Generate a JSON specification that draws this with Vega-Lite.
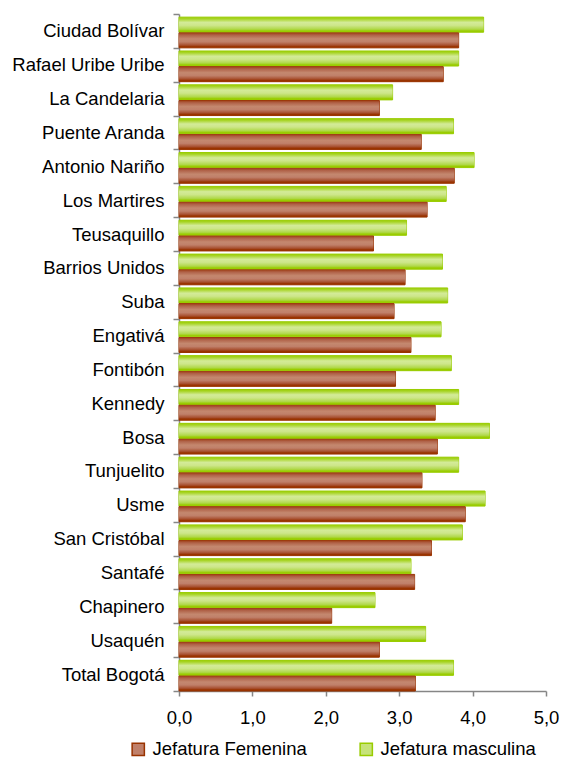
{
  "$schema": "https://vega.github.io/schema/vega-lite/v6.json",
  "width": 367,
  "height": 677,
  "autosize": {"type": "none"},
  "padding": {"left": 179, "top": 14, "right": 18, "bottom": 73},
  "background": "white",
  "config": {
    "view": {"stroke": null},
    "font": "Liberation Sans",
    "legend": {
      "orient": "none",
      "legendX": -50,
      "legendY": 726,
      "direction": "horizontal",
      "title": null,
      "symbolType": "square",
      "symbolSize": 150,
      "symbolStrokeWidth": 1.5,
      "labelFontSize": 18.5,
      "labelColor": "#000000",
      "labelFont": "Liberation Sans",
      "columnPadding": 50,
      "labelOffset": 5,
      "labelLimit": 300
    }
  },
  "data": {
    "values": [
      {"localidad": "Ciudad Bolívar", "jefatura": "Jefatura masculina", "valor": 4.15},
      {"localidad": "Ciudad Bolívar", "jefatura": "Jefatura Femenina", "valor": 3.81},
      {"localidad": "Rafael Uribe Uribe", "jefatura": "Jefatura masculina", "valor": 3.81},
      {"localidad": "Rafael Uribe Uribe", "jefatura": "Jefatura Femenina", "valor": 3.60},
      {"localidad": "La Candelaria", "jefatura": "Jefatura masculina", "valor": 2.91},
      {"localidad": "La Candelaria", "jefatura": "Jefatura Femenina", "valor": 2.73},
      {"localidad": "Puente Aranda", "jefatura": "Jefatura masculina", "valor": 3.74},
      {"localidad": "Puente Aranda", "jefatura": "Jefatura Femenina", "valor": 3.30},
      {"localidad": "Antonio Nariño", "jefatura": "Jefatura masculina", "valor": 4.02},
      {"localidad": "Antonio Nariño", "jefatura": "Jefatura Femenina", "valor": 3.75},
      {"localidad": "Los Martires", "jefatura": "Jefatura masculina", "valor": 3.64},
      {"localidad": "Los Martires", "jefatura": "Jefatura Femenina", "valor": 3.38},
      {"localidad": "Teusaquillo", "jefatura": "Jefatura masculina", "valor": 3.10},
      {"localidad": "Teusaquillo", "jefatura": "Jefatura Femenina", "valor": 2.65},
      {"localidad": "Barrios Unidos", "jefatura": "Jefatura masculina", "valor": 3.59},
      {"localidad": "Barrios Unidos", "jefatura": "Jefatura Femenina", "valor": 3.08},
      {"localidad": "Suba", "jefatura": "Jefatura masculina", "valor": 3.66},
      {"localidad": "Suba", "jefatura": "Jefatura Femenina", "valor": 2.93},
      {"localidad": "Engativá", "jefatura": "Jefatura masculina", "valor": 3.57},
      {"localidad": "Engativá", "jefatura": "Jefatura Femenina", "valor": 3.16},
      {"localidad": "Fontibón", "jefatura": "Jefatura masculina", "valor": 3.71},
      {"localidad": "Fontibón", "jefatura": "Jefatura Femenina", "valor": 2.95},
      {"localidad": "Kennedy", "jefatura": "Jefatura masculina", "valor": 3.81},
      {"localidad": "Kennedy", "jefatura": "Jefatura Femenina", "valor": 3.49},
      {"localidad": "Bosa", "jefatura": "Jefatura masculina", "valor": 4.23},
      {"localidad": "Bosa", "jefatura": "Jefatura Femenina", "valor": 3.52},
      {"localidad": "Tunjuelito", "jefatura": "Jefatura masculina", "valor": 3.81},
      {"localidad": "Tunjuelito", "jefatura": "Jefatura Femenina", "valor": 3.31},
      {"localidad": "Usme", "jefatura": "Jefatura masculina", "valor": 4.17},
      {"localidad": "Usme", "jefatura": "Jefatura Femenina", "valor": 3.90},
      {"localidad": "San Cristóbal", "jefatura": "Jefatura masculina", "valor": 3.86},
      {"localidad": "San Cristóbal", "jefatura": "Jefatura Femenina", "valor": 3.44},
      {"localidad": "Santafé", "jefatura": "Jefatura masculina", "valor": 3.16},
      {"localidad": "Santafé", "jefatura": "Jefatura Femenina", "valor": 3.21},
      {"localidad": "Chapinero", "jefatura": "Jefatura masculina", "valor": 2.67},
      {"localidad": "Chapinero", "jefatura": "Jefatura Femenina", "valor": 2.08},
      {"localidad": "Usaquén", "jefatura": "Jefatura masculina", "valor": 3.36},
      {"localidad": "Usaquén", "jefatura": "Jefatura Femenina", "valor": 2.73},
      {"localidad": "Total Bogotá", "jefatura": "Jefatura masculina", "valor": 3.74},
      {"localidad": "Total Bogotá", "jefatura": "Jefatura Femenina", "valor": 3.22}
    ]
  },
  "encoding": {
    "y": {
      "field": "localidad",
      "type": "nominal",
      "sort": ["Ciudad Bolívar", "Rafael Uribe Uribe", "La Candelaria", "Puente Aranda", "Antonio Nariño", "Los Martires", "Teusaquillo", "Barrios Unidos", "Suba", "Engativá", "Fontibón", "Kennedy", "Bosa", "Tunjuelito", "Usme", "San Cristóbal", "Santafé", "Chapinero", "Usaquén", "Total Bogotá"],
      "scale": {"paddingInner": 0, "paddingOuter": 0},
      "axis": {
        "title": null,
        "tickBand": "extent",
        "domainColor": "#868686",
        "tickColor": "#868686",
        "tickSize": 6,
        "domainWidth": 1.5,
        "tickWidth": 1.5,
        "labelPadding": 9,
        "labelFontSize": 18.5,
        "labelColor": "#000000",
        "labelLimit": 220,
        "grid": false
      }
    },
    "yOffset": {
      "field": "jefatura",
      "type": "nominal",
      "sort": ["Jefatura masculina", "Jefatura Femenina"],
      "scale": {"paddingInner": 0.04, "paddingOuter": 0.1, "align": 1}
    },
    "x": {
      "field": "valor",
      "type": "quantitative",
      "scale": {"domain": [0, 5], "nice": false},
      "axis": {
        "title": null,
        "values": [0, 1, 2, 3, 4, 5],
        "labelExpr": "replace(format(datum.value, '.1f'), '.', ',')",
        "grid": false,
        "domainColor": "#868686",
        "tickColor": "#868686",
        "domainWidth": 1.5,
        "tickWidth": 1.5,
        "tickSize": 5,
        "labelPadding": 12,
        "labelFontSize": 18.5,
        "labelColor": "#000000",
        "labelFlush": false
      }
    }
  },
  "layer": [
    {
      "mark": {"type": "bar", "strokeWidth": 1},
      "encoding": {
        "color": {
          "field": "jefatura",
          "type": "nominal",
          "scale": {"domain": ["Jefatura Femenina", "Jefatura masculina"], "range": ["#c0806a", "#c6e37a"]}
        },
        "stroke": {
          "field": "jefatura",
          "type": "nominal",
          "scale": {"domain": ["Jefatura Femenina", "Jefatura masculina"], "range": ["#993300", "#99cc00"]}
        }
      }
    },
    {
      "transform": [{"filter": "datum.jefatura === 'Jefatura masculina'"}],
      "mark": {
        "type": "bar",
        "color": {
          "gradient": "linear", "x1": 0, "y1": 0, "x2": 0, "y2": 1,
          "stops": [
            {"offset": 0, "color": "#99cc00"},
            {"offset": 0.12, "color": "#a9d52a"},
            {"offset": 0.35, "color": "#d3eb98"},
            {"offset": 0.55, "color": "#cde68a"},
            {"offset": 0.8, "color": "#b0d84a"},
            {"offset": 0.92, "color": "#99cc00"},
            {"offset": 1, "color": "#99cc00"}
          ]
        }
      }
    },
    {
      "transform": [{"filter": "datum.jefatura === 'Jefatura Femenina'"}],
      "mark": {
        "type": "bar",
        "color": {
          "gradient": "linear", "x1": 0, "y1": 0, "x2": 0, "y2": 1,
          "stops": [
            {"offset": 0, "color": "#9e3d15"},
            {"offset": 0.15, "color": "#b06248"},
            {"offset": 0.4, "color": "#c4886f"},
            {"offset": 0.6, "color": "#c0806a"},
            {"offset": 0.82, "color": "#a85030"},
            {"offset": 0.92, "color": "#993300"},
            {"offset": 1, "color": "#993300"}
          ]
        }
      }
    }
  ]
}
